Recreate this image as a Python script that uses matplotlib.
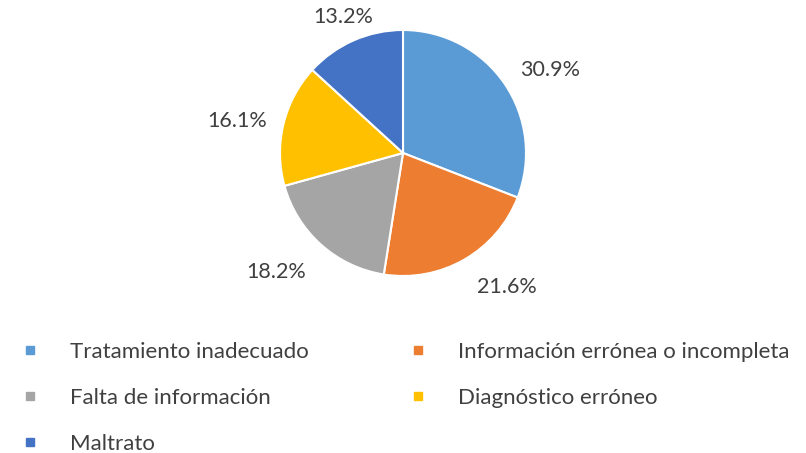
import matplotlib
matplotlib.use("Agg")
import matplotlib.pyplot as plt
from matplotlib.lines import Line2D
import numpy as np

categories = ["Tratamiento inadecuado", "Información errónea o incompleta",
              "Falta de información", "Diagnóstico erróneo", "Maltrato"]
values = [30.9, 21.6, 18.2, 16.1, 13.2]
colors = ["#5B9BD5", "#ED7D31", "#A5A5A5", "#FFC000", "#4472C4"]

plt.rcParams['font.family'] = ['Lato', 'DejaVu Sans']
txt_color = "#404040"
fs = 16

W, H = 806, 453
fig = plt.figure(figsize=(W / 100, H / 100), dpi=100)
cx, cy, R = 403, 153, 123
ax = fig.add_axes([(cx - R) / W, 1 - (cy + R) / H, 2 * R / W, 2 * R / H])
wedges, _ = ax.pie(values, colors=colors, startangle=90, counterclock=False,
                   radius=1.0, wedgeprops=dict(edgecolor="white", linewidth=1.5))
ax.set_xlim(-1, 1)
ax.set_ylim(-1, 1)
ax.set_aspect('auto')
ax.axis('off')

# label placement tweaks (angle offset in degrees, radial distance)
tweaks = [(-5, 1.37), (8, 1.38), (-5, 1.41), (2.5, 1.37), (0, 1.21)]
for w, v, (da, r) in zip(wedges, values, tweaks):
    ang = np.deg2rad((w.theta1 + w.theta2) / 2 + da)
    ax.text(r * np.cos(ang), r * np.sin(ang), f"{v:.1f}%", ha="center", va="center",
            fontsize=15.5, color=txt_color, clip_on=False)

handles = [Line2D([], [], marker='s', linestyle='none', markersize=6,
                  markerfacecolor=c, markeredgecolor=c) for c in colors]
order = [0, 2, 4, 1, 3]
leg = fig.legend([handles[i] for i in order], [categories[i] for i in order],
                 ncol=2, loc="upper left", bbox_to_anchor=(10 / W, 1 - 333 / H),
                 frameon=False, fontsize=fs, handlelength=1.0, handletextpad=1.30,
                 columnspacing=4.4, labelspacing=1.17, borderaxespad=0)
for t in leg.get_texts():
    t.set_color(txt_color)

fig.savefig("out.png", dpi=100)
